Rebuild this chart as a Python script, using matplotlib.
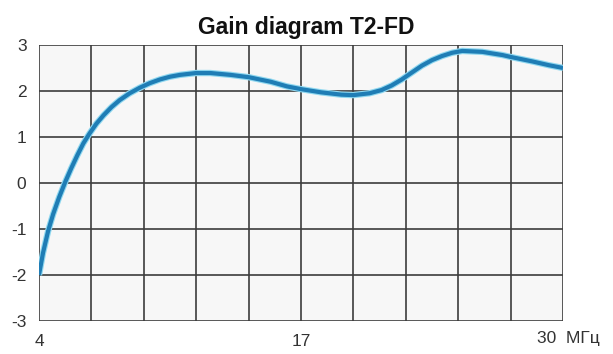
# Gain diagram T2-FD recreation

import matplotlib
matplotlib.use("Agg")
import matplotlib.pyplot as plt
import matplotlib.transforms as mtransforms

# Frequency (MHz) and gain values.
freq = [4.0, 4.2, 4.45, 4.7, 5.0, 5.3, 5.6, 5.9, 6.2, 6.5, 6.85, 7.2, 7.6, 8.0,
        8.5, 9.0, 9.5, 10.0, 10.5, 11.0, 11.8, 12.5, 13.5, 14.4, 15.5, 16.3, 17.0,
        18.0, 19.0, 19.6, 20.4, 21.0, 21.5, 22.0, 22.5, 23.0, 23.5, 24.0, 24.5,
        25.0, 26.0, 27.0, 27.4, 28.5, 29.3, 30.0]
gain = [-2.0, -1.52, -1.05, -0.68, -0.31, 0.02, 0.32, 0.6, 0.86, 1.07, 1.29, 1.47, 1.65,
        1.8, 1.95, 2.07, 2.17, 2.25, 2.31, 2.35, 2.39, 2.39, 2.35, 2.3, 2.2, 2.1, 2.04,
        1.97, 1.92, 1.91, 1.95, 2.02, 2.12, 2.25, 2.4, 2.55, 2.67, 2.76, 2.83,
        2.87, 2.85, 2.78, 2.74, 2.64, 2.56, 2.5]

# Axis ticks.
y_ticks = [-3, -2, -1, 0, 1, 2, 3]
x_grid = [4 + 2.6 * i for i in range(11)]
x_labels = ["4", "17"]
x_label_pos = [4, 17]
unit_label = "30  МГц"

plt.rcParams["font.family"] = ["Liberation Sans", "DejaVu Sans"]

fig = plt.figure(figsize=(6.13, 3.54), dpi=100)
ax = fig.add_axes([0.0636, 0.0932, 0.8548, 0.7798])
ax.set_facecolor("#f7f7f7")

# Draw the curve with a light halo.
ax.plot(freq, gain, color="#8fd8f0", linewidth=4.6, solid_capstyle="butt",
        solid_joinstyle="round", zorder=3)
ax.plot(freq, gain, color="#1f7db5", linewidth=3.0, solid_capstyle="butt",
        solid_joinstyle="round", zorder=4)

ax.set_xlim(4, 30)
ax.set_ylim(-3, 3)

# Grid lines.
for gx in x_grid:
    ax.axvline(gx, color="#3c3c3c", linewidth=1.2, zorder=2)
for gy in y_ticks:
    ax.axhline(gy, color="#3c3c3c", linewidth=1.2, zorder=2)

for s in ax.spines.values():
    s.set_visible(False)

ax.set_yticks(y_ticks)
ax.set_yticklabels([str(v) for v in y_ticks])
ax.set_xticks(x_label_pos)
ax.set_xticklabels(x_labels)
ax.tick_params(length=0, labelsize=12.5, colors="#333333", pad=9)

# Last x label with unit.
trans = mtransforms.blended_transform_factory(ax.transData, ax.transAxes)
ax.text(30, -0.036, unit_label, ha="left", va="top",
        fontsize=12.5, color="#333333",
        transform=trans + mtransforms.ScaledTranslation(-26 / 100, 0, fig.dpi_scale_trans))

fig.text(0.5, 0.905, "Gain diagram T2-FD", ha="center", va="baseline",
         fontsize=16.5, fontweight="bold", color="#111111")

fig.savefig("out.png", dpi=100, facecolor="white")
